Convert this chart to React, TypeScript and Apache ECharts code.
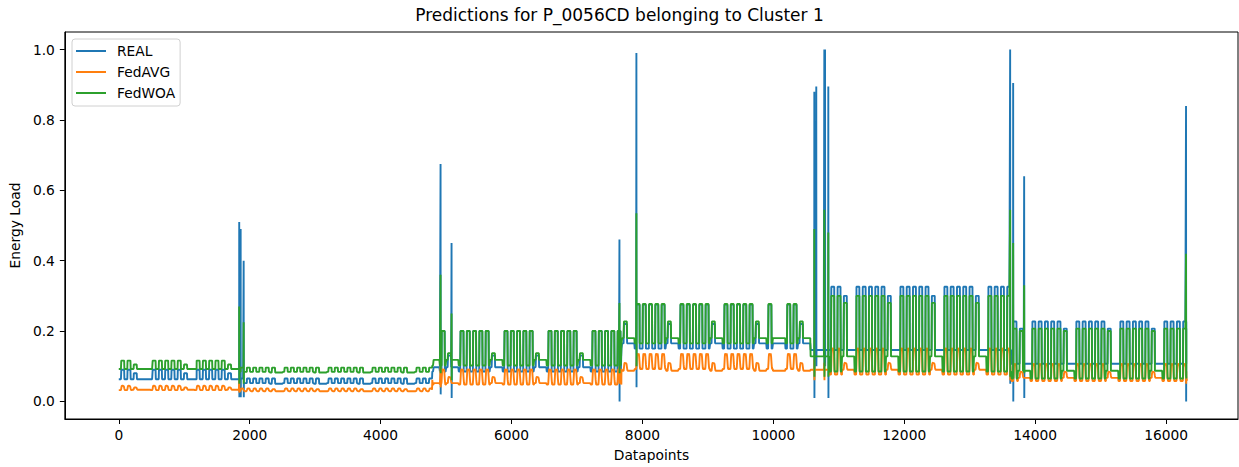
import React, { useEffect, useRef } from "react";
import * as echarts from "echarts";

// ---------- text ----------
const TITLE = "Predictions for P_0056CD belonging to Cluster 1";
const X_NAME = "Datapoints";
const Y_NAME = "Energy Load";
const SERIES_NAMES = ["REAL", "FedAVG", "FedWOA"];
const SERIES_COLORS = ["#1f77b4", "#ff7f0e", "#2ca02c"];

// ---------- ticks ----------
const X_TICKS = [0, 2000, 4000, 6000, 8000, 10000, 12000, 14000, 16000];
const Y_TICKS = [0, 0.2, 0.4, 0.6, 0.8, 1.0];

// ---------- data ----------
const N_POINTS = 16320;
const POINTS_PER_DAY = 96;
const POINTS_PER_WEEK = 672;
const FIRST_MONDAY = 490;

// per week (Monday..Sunday): H = working day, S = short/lower day, L = flat
const WEEK_PATTERNS = [
  "HHHHSLL", // partial, data starts on Tuesday
  "HHHHHSL", // 490
  "HHHHHSL", // 1162
  "HHHHHSL", // 1834
  "HHHHHSL", // 2506
  "HHHHHSL", // 3178
  "HHHHHSL", // 3850
  "HHHLHSL", // 4522
  "HHHHHSL", // 5194
  "HHHHHSL", // 5866
  "HHHHHSL", // 6538
  "HHHHHSL", // 7210
  "HHHHHSL", // 7882
  "HHHHHSL", // 8554
  "HHHHHSL", // 9226
  "HLLHHSL", // 9898
  "LLLHHSL", // 10570
  "HHHHHSL", // 11242
  "HHHHHSL", // 11914
  "HHHHHSL", // 12586
  "HHHHHSL", // 13258
  "HHHHHSL", // 13930
  "HHHHHSL", // 14602
  "HHHHHSL", // 15274
  "HHHHHSL", // 15946
];

// level regimes start at these datapoints
const SEGMENT_STARTS = [0, 1850, 4790, 7680, 10570, 13640];

// per regime: [working-day high, working-day night, short-day high, flat level]
const REAL_LEVELS = [
  [0.09, 0.063, 0.08, 0.063],
  [0.065, 0.052, 0.065, 0.05],
  [0.2, 0.085, 0.13, 0.097],
  [0.275, 0.15, 0.22, 0.165],
  [0.326, 0.146, 0.3, 0.146],
  [0.227, 0.107, 0.207, 0.107],
];
const AVG_LEVELS = [
  [0.045, 0.032, 0.04, 0.033],
  [0.037, 0.029, 0.035, 0.029],
  [0.092, 0.048, 0.07, 0.052],
  [0.136, 0.092, 0.11, 0.087],
  [0.152, 0.076, 0.11, 0.09],
  [0.108, 0.058, 0.085, 0.067],
];
const WOA_LEVELS = [
  [0.116, 0.092, 0.105, 0.092],
  [0.096, 0.084, 0.096, 0.082],
  [0.2, 0.102, 0.137, 0.118],
  [0.277, 0.165, 0.227, 0.18],
  [0.3, 0.085, 0.28, 0.128],
  [0.207, 0.065, 0.2, 0.087],
];

// hourly shape of a day (0 = night level, 1 = day level)
const STEP_SHAPE_HOURLY = [0, 0, 0, 0, 0, 0, 0, 1, 1, 1, 1, 1, 1, 1, 1, 1, 1, 1, 1, 0, 0, 0, 0, 0];
const SMOOTH_SHAPE_HOURLY = [0, 0, 0, 0, 0, 0, 0.1, 0.4, 0.75, 0.95, 1, 1, 0.95, 0.9, 0.95, 1, 0.95, 0.8, 0.55, 0.3, 0.1, 0, 0, 0];

// spikes: [datapoint, peak value, dip value]
const REAL_SPIKES = [
  [1840, 0.51, 0.012], [1862, 0.49, 0.012], [1908, 0.4, 0.012],
  [4916, 0.675, 0.02], [5084, 0.45, 0.01],
  [7649, 0.46, 0.0], [7908, 0.99, 0.04],
  [10626, 0.88, 0.01], [10656, 0.895, 0.1], [10779, 1.0, 0.1], [10790, 1.0, 0.1], [10840, 0.895, 0.01],
  [13618, 1.0, 0.05], [13664, 0.905, 0.0], [13832, 0.64, 0.01],
  [16305, 0.84, 0.0],
];
const AVG_SPIKES = [
  [1840, 0.06, 0.025], [4916, 0.1, 0.04], [7649, 0.1, 0.05],
  [10626, 0.12, 0.06], [10779, 0.11, 0.06], [13618, 0.13, 0.06], [16305, 0.1, 0.05],
];
const WOA_SPIKES = [
  [1840, 0.27, 0.05], [1908, 0.225, 0.05],
  [4916, 0.36, 0.08], [5084, 0.25, 0.06],
  [7649, 0.28, 0.08], [7908, 0.535, 0.1],
  [10626, 0.49, 0.07], [10779, 0.545, 0.07], [10840, 0.48, 0.07],
  [13618, 0.545, 0.07], [13664, 0.45, 0.07], [13832, 0.33, 0.08],
  [16305, 0.42, 0.07],
];

function buildSeries(levels: number[][], shape: number[], spikes: number[][]) {
  const vals: number[] = new Array(N_POINTS);
  const weekOrigin = FIRST_MONDAY - POINTS_PER_WEEK;
  for (let i = 0; i < N_POINTS; i++) {
    const rel = i - weekOrigin;
    const week = Math.floor(rel / POINTS_PER_WEEK);
    const inWeek = rel % POINTS_PER_WEEK;
    const day = Math.floor(inWeek / POINTS_PER_DAY);
    const hour = Math.floor((inWeek % POINTS_PER_DAY) / 4);
    const kind = (WEEK_PATTERNS[week] || "HHHHHSL")[day];
    let seg = 0;
    for (let s = 0; s < SEGMENT_STARTS.length; s++) if (SEGMENT_STARTS[s] <= i) seg = s;
    const [hi, night, sat, rest] = levels[seg];
    let v = rest;
    if (kind === "H") v = night + (hi - night) * shape[hour];
    else if (kind === "S") v = rest + (sat - rest) * shape[hour];
    vals[i] = v;
  }
  for (const [idx, up, down] of spikes) {
    if (idx < N_POINTS) vals[idx] = up;
    if (idx + 1 < N_POINTS) vals[idx + 1] = up;
    if (idx + 2 < N_POINTS) vals[idx + 2] = down;
    if (idx + 3 < N_POINTS) vals[idx + 3] = down;
  }
  return vals.map((v, i) => [i, v]);
}

export default function App() {
  const ref = useRef<HTMLDivElement>(null);
  useEffect(() => {
    if (!ref.current) return;
    const chart = echarts.init(ref.current, undefined, { renderer: "svg" });
    const realData = buildSeries(REAL_LEVELS, STEP_SHAPE_HOURLY, REAL_SPIKES);
    const avgData = buildSeries(AVG_LEVELS, SMOOTH_SHAPE_HOURLY, AVG_SPIKES);
    const woaData = buildSeries(WOA_LEVELS, STEP_SHAPE_HOURLY, WOA_SPIKES);
    const font = "DejaVu Sans";
    chart.setOption({
      animation: false,
      textStyle: { fontFamily: font },
      title: {
        text: TITLE,
        left: "center",
        top: 6,
        padding: 0,
        textStyle: { fontFamily: font, fontSize: 17, fontWeight: "normal", color: "#000" },
      },
      legend: {
        orient: "vertical",
        left: 72,
        top: 39,
        padding: [4, 5, 5, 4],
        itemWidth: 30,
        itemHeight: 2,
        itemGap: 5,
        icon: "rect",
        backgroundColor: "#fff",
        borderColor: "#d0d0d0",
        borderWidth: 1,
        borderRadius: 3,
        textStyle: { fontFamily: font, fontSize: 13.8, color: "#000", lineHeight: 16, padding: [0, 0, 0, 6] },
        data: SERIES_NAMES,
      },
      grid: {
        left: 64,
        right: 1,
        top: 32,
        bottom: 45,
        show: true,
        borderColor: "#000",
        borderWidth: 1,
        containLabel: false,
      },
      xAxis: {
        type: "value",
        min: -824,
        max: 17099,
        name: X_NAME,
        nameLocation: "middle",
        nameGap: 29,
        nameTextStyle: { fontFamily: font, fontSize: 13.8, color: "#000" },
        axisLine: { show: true, onZero: false, lineStyle: { color: "#000", width: 1 } },
        axisTick: { show: true, length: 5, customValues: X_TICKS, lineStyle: { color: "#000" } },
        axisLabel: {
          customValues: X_TICKS,
          margin: 9,
          fontFamily: font,
          fontSize: 13.8,
          color: "#000",
          formatter: (v: number) => String(v),
        },
        splitLine: { show: false },
      },
      yAxis: {
        type: "value",
        min: -0.05,
        max: 1.05,
        name: Y_NAME,
        nameLocation: "middle",
        nameGap: 40,
        nameRotate: 90,
        nameTextStyle: { fontFamily: font, fontSize: 13.8, color: "#000" },
        axisLine: { show: true, onZero: false, lineStyle: { color: "#000", width: 1 } },
        axisTick: { show: true, length: 5, customValues: Y_TICKS, lineStyle: { color: "#000" } },
        axisLabel: {
          customValues: Y_TICKS,
          margin: 10,
          fontFamily: font,
          fontSize: 13.8,
          color: "#000",
          formatter: (v: number) => v.toFixed(1),
        },
        splitLine: { show: false },
      },
      series: [
        { name: SERIES_NAMES[0], data: realData },
        { name: SERIES_NAMES[1], data: avgData },
        { name: SERIES_NAMES[2], data: woaData },
      ].map((s, k) => ({
        ...s,
        type: "line",
        showSymbol: false,
        symbol: "none",
        color: SERIES_COLORS[k],
        lineStyle: { width: 1.9, color: SERIES_COLORS[k] },
        emphasis: { disabled: true },
      })),
    });
    return () => chart.dispose();
  }, []);
  return (
    <div
      ref={ref}
      style={{ position: "absolute", left: 0, top: 0, width: 1239, height: 467, background: "#fff" }}
    />
  );
}
